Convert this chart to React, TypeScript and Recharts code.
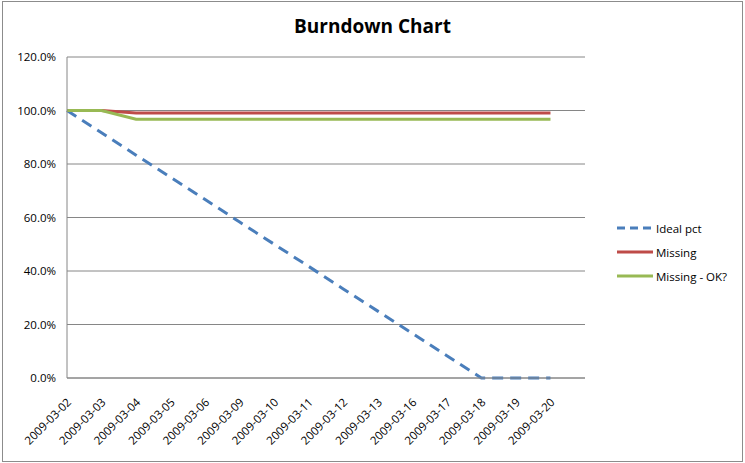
import { LineChart, Line, XAxis, YAxis, CartesianGrid } from "recharts";

const dates = [
  "2009-03-02", "2009-03-03", "2009-03-04", "2009-03-05", "2009-03-06",
  "2009-03-09", "2009-03-10", "2009-03-11", "2009-03-12", "2009-03-13",
  "2009-03-16", "2009-03-17", "2009-03-18", "2009-03-19", "2009-03-20", "",
];
const idealPct = [100, 91.7, 83.3, 75, 66.7, 58.3, 50, 41.7, 33.3, 25, 16.7, 8.3, 0, 0, 0, null];
const missing = [100, 100, 99.1, 99.1, 99.1, 99.1, 99.1, 99.1, 99.1, 99.1, 99.1, 99.1, 99.1, 99.1, 99.1, null];
const missingOk = [100, 100, 96.7, 96.7, 96.7, 96.7, 96.7, 96.7, 96.7, 96.7, 96.7, 96.7, 96.7, 96.7, 96.7, null];
const yTicks = [0, 20, 40, 60, 80, 100, 120];

const data = dates.map((d, i) => ({
  date: d,
  ideal: idealPct[i],
  missing: missing[i],
  missingOk: missingOk[i],
}));

const FONT = "'Open Sans', 'Noto Sans', sans-serif";
const AXIS = "#868686";

const series = [
  { key: "ideal", name: "Ideal pct", color: "#4A7EBB", dash: "11 7" },
  { key: "missing", name: "Missing", color: "#BE4B48", dash: undefined },
  { key: "missingOk", name: "Missing - OK?", color: "#98B954", dash: undefined },
];

function DateTick({ x, y, payload }: any) {
  const tx = x + 5;
  const ty = y + 17;
  return (
    <text
      x={tx}
      y={ty}
      transform={`rotate(-45, ${tx}, ${ty})`}
      textAnchor="end"
      fontSize={11.5}
      fontFamily={FONT}
      fill="#000"
    >
      {payload.value}
    </text>
  );
}

export default function App() {
  return (
    <div style={{ position: "absolute", left: 0, top: 0, width: 745, height: 463, background: "#fff" }}>
      <div
        style={{
          position: "absolute", left: 2, top: 1, width: 739, height: 459,
          border: "1px solid #8c8c8c",
        }}
      />
      <div
        style={{
          position: "absolute", left: 0, top: 13, width: 745, textAlign: "center",
          fontFamily: FONT, fontWeight: 700, fontSize: 19, color: "#000",
        }}
      >
        Burndown Chart
      </div>
      <div style={{ position: "absolute", left: 0, top: 0 }}>
        <LineChart width={745} height={463} data={data} margin={{ top: 57, right: 160, bottom: 0, left: 0 }}>
          <CartesianGrid vertical={false} stroke={AXIS} strokeWidth={1} />
          <XAxis
            dataKey="date"
            height={85}
            interval={0}
            tick={<DateTick />}
            tickLine={false}
            axisLine={{ stroke: AXIS }}
          />
          <YAxis
            width={67}
            domain={[0, 120]}
            ticks={yTicks}
            tickFormatter={(v) => `${v.toFixed(1)}%`}
            tick={{ fontSize: 11.5, fontFamily: FONT, fill: "#000", dx: -3 }}
            tickLine={false}
            axisLine={{ stroke: AXIS }}
          />
          {series.map((s) => (
            <Line
              key={s.key}
              dataKey={s.key}
              name={s.name}
              type="linear"
              stroke={s.color}
              strokeWidth={3}
              strokeDasharray={s.dash}
              dot={false}
              isAnimationActive={false}
            />
          ))}
        </LineChart>
      </div>
      <div style={{ position: "absolute", left: 617, top: 216, fontFamily: FONT, fontSize: 11.5 }}>
        {series.map((s) => (
          <div key={s.key} style={{ display: "flex", alignItems: "center", height: 24 }}>
            <svg width={36} height={6} style={{ marginRight: 3 }}>
              <line x1={0} y1={3} x2={36} y2={3} stroke={s.color} strokeWidth={3} strokeDasharray={s.dash ? "8 5" : undefined} />
            </svg>
            <span>{s.name}</span>
          </div>
        ))}
      </div>
    </div>
  );
}
